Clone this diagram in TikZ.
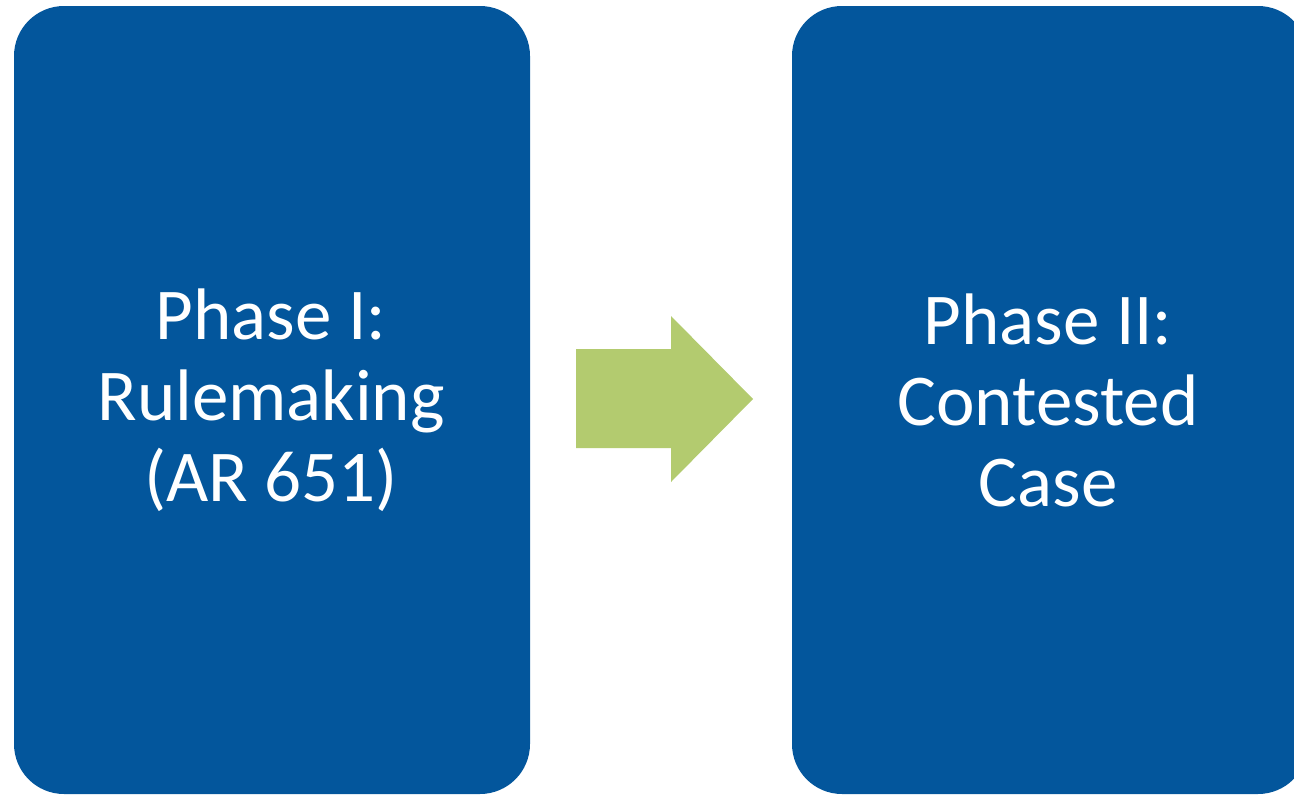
\documentclass[tikz,border=0pt]{standalone}
\usepackage{fontspec}
\setmainfont{Carlito}
\definecolor{boxblue}{RGB}{3,86,156}
\definecolor{arrowgreen}{RGB}{179,203,111}
\begin{document}
\begin{tikzpicture}[x=1pt,y=-1pt,
  phasebox/.style={fill=boxblue, draw=none, rounded corners=50pt},
  phasetext/.style={text=white, font=\fontsize{73}{81}\selectfont, align=center}]
\useasboundingbox (0,0) rectangle (1294,795);
\begin{scope}
\clip (0,0) rectangle (1294,795);
\fill[phasebox] (14,6) rectangle (530,794);
\fill[phasebox] (792,6) rectangle (1308,794);
\fill[arrowgreen] (576,349) -- (671,349) -- (671,316) -- (753,399) -- (671,482) -- (671,448) -- (576,448) -- cycle;
\end{scope}
\node[phasetext] (p1) at (271,400) {Phase I:\\Rulemaking\\(AR 651)};
\node[phasetext] (p2) at (1048,400) {Phase II:\\Contested\\Case};
\end{tikzpicture}
\end{document}
